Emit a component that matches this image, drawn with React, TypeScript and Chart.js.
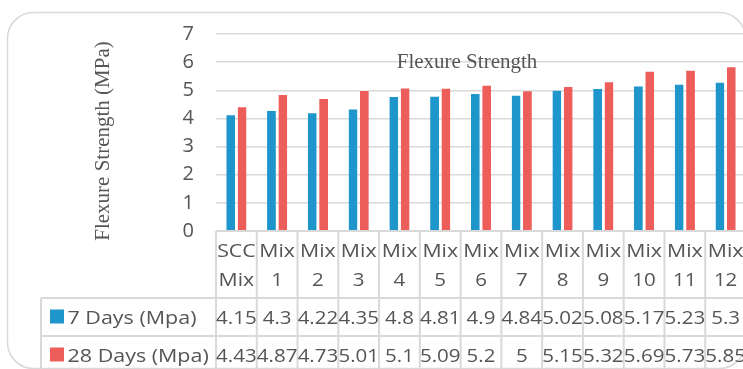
import React, { useEffect, useRef } from "react";
import { Chart, registerables } from "chart.js";

Chart.register(...registerables);

// Mix designs shown along the x axis (two lines each in the table header)
const categories: string[][] = [
  ["SCC", "Mix"],
  ["Mix", "1"],
  ["Mix", "2"],
  ["Mix", "3"],
  ["Mix", "4"],
  ["Mix", "5"],
  ["Mix", "6"],
  ["Mix", "7"],
  ["Mix", "8"],
  ["Mix", "9"],
  ["Mix", "10"],
  ["Mix", "11"],
  ["Mix", "12"],
];

// Flexural strength, MPa
const days7 = [4.15, 4.3, 4.22, 4.35, 4.8, 4.81, 4.9, 4.84, 5.02, 5.08, 5.17, 5.23, 5.3];
const days28 = [4.43, 4.87, 4.73, 5.01, 5.1, 5.09, 5.2, 5, 5.15, 5.32, 5.69, 5.73, 5.85];

const seriesNames = ["7 Days (Mpa)", "28 Days (Mpa)"];
const seriesColors = ["#1e96cc", "#ed5e5b"];

const chartTitle = "Flexure Strength";
const yAxisTitle = "Flexure Strength (MPa)";
const yMin = 0;
const yMax = 7;
const yStep = 1;

const VIEW_W = 743;
const VIEW_H = 369;
const CANVAS_W = 750; // the plot runs slightly past the visible edge
const SANS = '"Open Sans", "Noto Sans", sans-serif';
const SERIF = '"Liberation Serif", "DejaVu Serif", serif';
const TEXT = "#555555";
const LINE = "#d9d9d9";

// draw text widened horizontally about its anchor point
function wideText(
  ctx: CanvasRenderingContext2D,
  text: string,
  x: number,
  y: number,
  sx: number
) {
  ctx.save();
  ctx.translate(x, y);
  ctx.scale(sx, 1);
  ctx.fillText(text, 0, 0);
  ctx.restore();
}

// Frame, titles and the data table under the plot
const decorations = {
  id: "decorations",
  beforeDraw(chart: any) {
    const ctx = chart.ctx as CanvasRenderingContext2D;
    ctx.save();
    ctx.fillStyle = "#ffffff";
    ctx.fillRect(0, 0, chart.width, chart.height);
    ctx.strokeStyle = LINE;
    ctx.lineWidth = 1.5;
    ctx.beginPath();
    ctx.roundRect(7.5, 12.5, 738, 356, 26);
    ctx.stroke();
    ctx.restore();
  },
  afterDraw(chart: any) {
    const ctx = chart.ctx as CanvasRenderingContext2D;
    const area = chart.chartArea;
    const xScale = chart.scales.x;
    const n = categories.length;
    const colW = (area.right - area.left) / n;
    const top = area.bottom;
    const headerH = 67;
    const rowH = 38;
    const row1 = top + headerH;
    const row2 = row1 + rowH;
    const row3 = row2 + rowH;
    const legendLeft = 41;

    ctx.save();

    // chart title, drawn over the gridlines
    ctx.fillStyle = TEXT;
    ctx.font = `21px ${SERIF}`;
    ctx.textAlign = "center";
    ctx.textBaseline = "alphabetic";
    ctx.fillText(chartTitle, 467, 68);

    // vertical axis title
    ctx.save();
    ctx.translate(109, 141);
    ctx.rotate(-Math.PI / 2);
    ctx.fillText(yAxisTitle, 0, 0);
    ctx.restore();

    // table grid
    ctx.strokeStyle = LINE;
    ctx.lineWidth = 2;
    ctx.beginPath();
    ctx.moveTo(area.left, top);
    ctx.lineTo(area.right, top);
    for (const y of [row1, row2, row3]) {
      ctx.moveTo(legendLeft, y);
      ctx.lineTo(area.right, y);
    }
    ctx.moveTo(legendLeft, row1);
    ctx.lineTo(legendLeft, row3);
    for (let i = 0; i <= n; i++) {
      const bx = area.left + i * colW;
      ctx.moveTo(bx, top);
      ctx.lineTo(bx, row3);
    }
    ctx.stroke();

    // header: category names
    ctx.fillStyle = TEXT;
    ctx.font = `19px ${SANS}`;
    ctx.textAlign = "center";
    categories.forEach((lines, i) => {
      const cx = xScale.getPixelForValue(i);
      lines.forEach((t, j) => {
        const numeric = /^\d+$/.test(t);
        wideText(ctx, t, cx, top + 26 + j * 28.5, numeric ? 1.08 : 1.12);
      });
    });

    // series rows: legend key, name and values
    const rows = [days7, days28];
    rows.forEach((vals, r) => {
      const rowTop = row1 + r * rowH;
      const base = rowTop + 25.5;
      ctx.fillStyle = seriesColors[r];
      ctx.fillRect(50, rowTop + 11.5, 14, 14);
      ctx.fillStyle = TEXT;
      ctx.textAlign = "left";
      wideText(ctx, seriesNames[r], 67.5, base, 1.13);
      ctx.textAlign = "center";
      vals.forEach((v, i) => {
        wideText(ctx, String(v), xScale.getPixelForValue(i), base, 1.08);
      });
    });

    ctx.restore();
  },
};

export default function App() {
  const canvasRef = useRef<HTMLCanvasElement | null>(null);

  useEffect(() => {
    const canvas = canvasRef.current;
    if (!canvas) return;
    const chart = new Chart(canvas, {
      type: "bar",
      data: {
        labels: categories.map((c) => c.join(" ")),
        datasets: [
          {
            label: seriesNames[0],
            data: days7,
            backgroundColor: seriesColors[0],
            borderColor: "rgba(255,255,255,0.45)",
            borderWidth: { top: 1, left: 0, right: 0, bottom: 0 },
          },
          {
            label: seriesNames[1],
            data: days28,
            backgroundColor: seriesColors[1],
            borderColor: "rgba(255,255,255,0.45)",
            borderWidth: { top: 1, left: 0, right: 0, bottom: 0 },
          },
        ],
      },
      options: {
        responsive: false,
        animation: false,
        devicePixelRatio: 1,
        layout: { padding: { top: 27, left: 0, right: 4, bottom: 0 } },
        datasets: { bar: { categoryPercentage: 0.557, barPercentage: 0.78 } },
        plugins: {
          legend: { display: false },
          title: { display: false },
          tooltip: { enabled: false },
        },
        scales: {
          x: {
            grid: { display: false },
            border: { display: false },
            ticks: { display: false },
            afterFit(scale: any) {
              scale.height = 138;
            },
          },
          y: {
            min: yMin,
            max: yMax,
            ticks: {
              stepSize: yStep,
              padding: 22,
              color: TEXT,
              font: { family: SANS, size: 20 },
            },
            grid: { color: LINE, lineWidth: 1.5, drawTicks: false },
            border: { display: false },
            afterFit(scale: any) {
              scale.width = 216;
            },
          },
        },
      },
      plugins: [decorations],
    } as any);
    return () => chart.destroy();
  }, []);

  return (
    <div
      style={{
        position: "fixed",
        left: 0,
        top: 0,
        width: VIEW_W,
        height: VIEW_H,
        overflow: "hidden",
        background: "#ffffff",
      }}
    >
      <canvas
        ref={canvasRef}
        width={CANVAS_W}
        height={VIEW_H}
        style={{ display: "block", width: CANVAS_W, height: VIEW_H }}
      />
    </div>
  );
}
